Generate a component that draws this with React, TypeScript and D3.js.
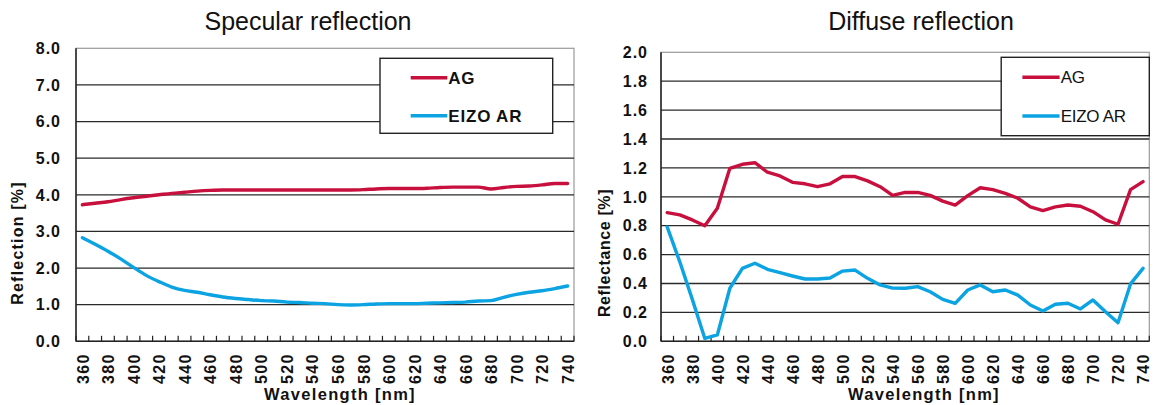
import React from 'react';
import * as d3 from 'd3';

const wavelengths = [360, 370, 380, 390, 400, 410, 420, 430, 440, 450, 460, 470, 480, 490, 500, 510, 520, 530, 540, 550, 560, 570, 580, 590, 600, 610, 620, 630, 640, 650, 660, 670, 680, 690, 700, 710, 720, 730, 740];
const xTickLabels = [360, 380, 400, 420, 440, 460, 480, 500, 520, 540, 560, 580, 600, 620, 640, 660, 680, 700, 720, 740];

const specularAG = [3.73, 3.77, 3.81, 3.87, 3.92, 3.96, 4.0, 4.04, 4.07, 4.1, 4.12, 4.13, 4.13, 4.13, 4.13, 4.13, 4.13, 4.13, 4.13, 4.13, 4.13, 4.13, 4.14, 4.16, 4.17, 4.17, 4.17, 4.18, 4.2, 4.21, 4.21, 4.21, 4.16, 4.2, 4.23, 4.24, 4.27, 4.31, 4.31];
const specularAR = [2.83, 2.65, 2.46, 2.25, 2.02, 1.8, 1.63, 1.48, 1.39, 1.34, 1.27, 1.21, 1.17, 1.14, 1.11, 1.1, 1.07, 1.06, 1.04, 1.03, 1.0, 0.99, 1.0, 1.02, 1.03, 1.03, 1.03, 1.04, 1.05, 1.06, 1.07, 1.1, 1.11, 1.2, 1.28, 1.34, 1.38, 1.44, 1.51];
const diffuseAG = [0.89, 0.875, 0.84, 0.8, 0.92, 1.197, 1.225, 1.236, 1.17, 1.144, 1.1, 1.09, 1.07, 1.09, 1.14, 1.14, 1.11, 1.07, 1.01, 1.03, 1.03, 1.01, 0.97, 0.943, 1.008, 1.063, 1.05, 1.024, 0.99, 0.93, 0.904, 0.93, 0.943, 0.935, 0.897, 0.84, 0.81, 1.05, 1.105];
const diffuseAR = [0.79, 0.55, 0.29, 0.02, 0.044, 0.367, 0.505, 0.54, 0.498, 0.475, 0.452, 0.431, 0.431, 0.438, 0.486, 0.493, 0.436, 0.39, 0.368, 0.367, 0.378, 0.343, 0.29, 0.263, 0.355, 0.39, 0.343, 0.355, 0.32, 0.251, 0.21, 0.256, 0.263, 0.224, 0.286, 0.205, 0.129, 0.397, 0.505];

const specularTicks = [0, 1, 2, 3, 4, 5, 6, 7, 8];
const diffuseTicks = [0, 0.2, 0.4, 0.6, 0.8, 1.0, 1.2, 1.4, 1.6, 1.8, 2.0];

const seriesNames = ['AG', 'EIZO AR'];
const RED = '#C8103E';
const BLUE = '#0BA3E2';
const FONT = "'Liberation Sans', Arial, sans-serif";

type PanelProps = {
  title: string;
  titleX: number;
  yTitle: string;
  yTitleX: number;
  yTitleY: number;
  xTitleX: number;
  x0: number; x1: number; y0: number; y1: number;
  yTicks: number[];
  series: number[][];
  smooth: boolean;
  legend: { x: number; y: number; w: number; h: number; lx0: number; lx1: number; tx: number; ly: number[]; bold: boolean; spacing: number };
  yLabelRight: number;
  yTitleSpacing: number;
};

function Panel(p: PanelProps) {
  const x = d3.scaleBand<number>().domain(wavelengths).range([p.x0, p.x1]);
  const yMax = p.yTicks[p.yTicks.length - 1];
  const y = d3.scaleLinear().domain([0, yMax]).range([p.y1, p.y0]);
  const cx = (w: number) => (x(w) as number) + x.bandwidth() / 2;
  const line = d3.line<number>()
    .x((_, i) => cx(wavelengths[i]))
    .y((v) => y(v))
    .curve(p.smooth ? d3.curveMonotoneX : d3.curveLinear);
  const boundaries = wavelengths.map((w) => x(w) as number).concat([p.x1]);
  const colors = [RED, BLUE];
  return (
    <g>
      <text x={p.titleX} y={30} textAnchor="middle" fontFamily={FONT} fontSize={25} fill="#111">{p.title}</text>
      <rect x={p.x0} y={p.y0} width={p.x1 - p.x0} height={p.y1 - p.y0} fill="#fff" stroke="#9a9a9a" strokeWidth={1.2} />
      {p.yTicks.slice(1, -1).map((t) => (
        <line key={t} x1={p.x0} x2={p.x1} y1={y(t)} y2={y(t)} stroke="#2a2a2a" strokeWidth={1.3} />
      ))}
      <line x1={p.x0} x2={p.x0} y1={p.y0} y2={p.y1} stroke="#222" strokeWidth={1.5} />
      <line x1={p.x0} x2={p.x1} y1={p.y1} y2={p.y1} stroke="#222" strokeWidth={1.5} />
      {boundaries.map((b, i) => (
        <line key={i} x1={b} x2={b} y1={p.y1} y2={p.y1 - 5.5} stroke="#222" strokeWidth={1.2} />
      ))}
      {p.series.map((s, i) => (
        <path key={i} d={line(s) || ''} fill="none" stroke={colors[i]} strokeWidth={3.4} strokeLinejoin="round" strokeLinecap="round" />
      ))}
      {p.yTicks.map((t) => (
        <text key={t} x={p.yLabelRight + 1} y={y(t)} dy="0.36em" textAnchor="end" fontFamily={FONT} fontWeight="bold" fontSize={16} letterSpacing={1} fill="#111">{t.toFixed(1)}</text>
      ))}
      {xTickLabels.map((w) => (
        <text key={w} transform={`translate(${cx(w) + 0.5},${p.y1 + 12}) rotate(-90)`} dy="0.36em" textAnchor="end" fontFamily={FONT} fontWeight="bold" fontSize={16} letterSpacing={1.3} fill="#111">{w}</text>
      ))}
      <text x={p.xTitleX} y={400} textAnchor="middle" fontFamily={FONT} fontWeight="bold" fontSize={16.5} letterSpacing={1.3} fill="#111">Wavelength [nm]</text>
      <text transform={`translate(${p.yTitleX},${p.yTitleY}) rotate(-90)`} dy="0.36em" textAnchor="middle" fontFamily={FONT} fontWeight="bold" fontSize={16} letterSpacing={p.yTitleSpacing} fill="#111">{p.yTitle}</text>
      <rect x={p.legend.x} y={p.legend.y} width={p.legend.w} height={p.legend.h} fill="#fff" stroke="#222" strokeWidth={1.4} />
      {seriesNames.map((n, i) => (
        <g key={n}>
          <line x1={p.legend.x + p.legend.lx0} x2={p.legend.x + p.legend.lx1} y1={p.legend.y + p.legend.ly[i]} y2={p.legend.y + p.legend.ly[i]} stroke={colors[i]} strokeWidth={3.4} />
          <text x={p.legend.x + p.legend.tx} y={p.legend.y + p.legend.ly[i]} dy="0.36em" fontFamily={FONT} fontWeight={p.legend.bold ? 'bold' : 'normal'} fontSize={17} letterSpacing={p.legend.spacing} fill="#111">{n}</text>
        </g>
      ))}
    </g>
  );
}

export default function App() {
  return (
    <svg width={1158} height={405} style={{ position: 'absolute', left: 0, top: 0, background: '#fff' }}>
      <rect x={0} y={0} width={1158} height={405} fill="#fff" />
      <Panel
        title="Specular reflection" titleX={308}
        yTitle="Reflection [%]" yTitleX={17} yTitleY={243} yTitleSpacing={1.2}
        xTitleX={340}
        x0={76} x1={574} y0={48.3} y1={341.3}
        yTicks={specularTicks}
        series={[specularAG, specularAR]}
        smooth={true}
        legend={{ x: 380, y: 58.3, w: 172.7, h: 75, lx0: 30.7, lx1: 67.3, tx: 68.3, ly: [19.4, 57.4], bold: true, spacing: 0.8 }}
        yLabelRight={60}
      />
      <Panel
        title="Diffuse reflection" titleX={921}
        yTitle="Reflectance [%]" yTitleX={604} yTitleY={253} yTitleSpacing={0.6}
        xTitleX={924}
        x0={661} x1={1149.3} y0={52.3} y1={341.3}
        yTicks={diffuseTicks}
        series={[diffuseAG, diffuseAR]}
        smooth={false}
        legend={{ x: 1001.2, y: 57.3, w: 148.1, h: 78.4, lx0: 21.2, lx1: 58.4, tx: 59.5, ly: [20, 58.7], bold: false, spacing: -0.3 }}
        yLabelRight={647}
      />
    </svg>
  );
}
